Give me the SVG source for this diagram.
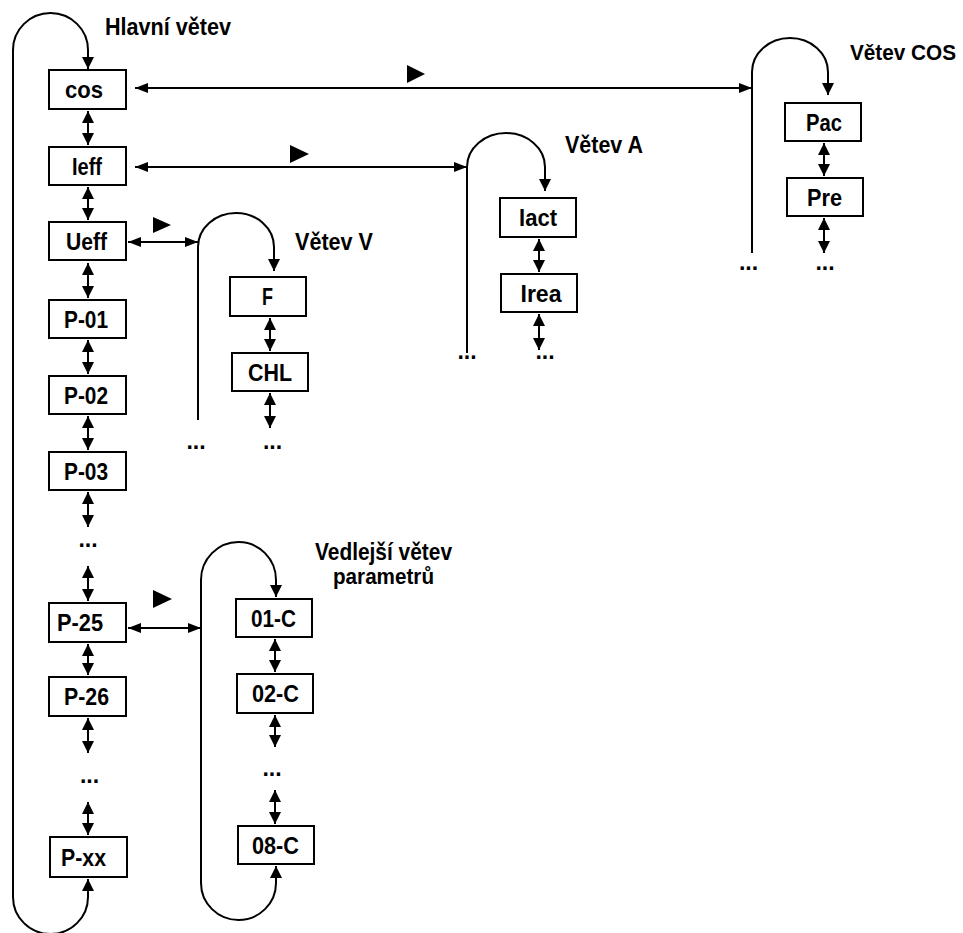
<svg xmlns="http://www.w3.org/2000/svg" width="963" height="933" viewBox="0 0 963 933">
<style>
  .bx rect { fill: #fff; stroke: #000; stroke-width: 2; }
  .bx text, .lbl { font-family: "Liberation Sans", Arial, sans-serif; font-weight: bold; font-size: 24px; fill: #000; }
  .bx text { text-anchor: middle; }
  .dots { font-family: "Liberation Sans", Arial, sans-serif; font-weight: bold; font-size: 23px; text-anchor: middle; fill: #000; }
  .c { fill: none; stroke: #000; stroke-width: 2; }
  .v { marker-start: url(#ah); marker-end: url(#ah); }
  .h { marker-start: url(#ahh); marker-end: url(#ahh); }
  .tri { fill: #000; }
</style>
<defs>
  <marker id="ah" viewBox="0 0 12 12" refX="12" refY="6" markerWidth="12" markerHeight="12" markerUnits="userSpaceOnUse" orient="auto-start-reverse">
    <path d="M0,0 L12,6 L0,12 z" fill="#000"/>
  </marker>
  <marker id="ahh" viewBox="0 0 13 10" refX="13" refY="5" markerWidth="13" markerHeight="10" markerUnits="userSpaceOnUse" orient="auto-start-reverse">
    <path d="M0,0 L13,5 L0,10 z" fill="#000"/>
  </marker>
</defs>
<rect width="963" height="933" fill="#fff"/>

<g id="connectors">
  <path class="c v" d="M88,879 L88,897 A37.5,37 0 0 1 13,897 L13,50 A37.5,37 0 0 1 88,50 L88,69"/>
  <path class="c" style="marker-end:url(#ah)" d="M198,420 L198,247 A38,34 0 0 1 274,247 L274,271"/>
  <path class="c" style="marker-end:url(#ah)" d="M467,353 L467,167 A39,34 0 0 1 545,167 L545,191"/>
  <path class="c" style="marker-end:url(#ah)" d="M752,253 L752,72 A38,34 0 0 1 828,72 L828,95"/>
  <path class="c v" d="M276,866 L276,883 A37.5,37 0 0 1 201,883 L201,580 A37.5,38 0 0 1 276,580 L276,597"/>
  <line class="c h" x1="135" y1="88" x2="752" y2="88"/>
  <line class="c h" x1="135" y1="167" x2="467" y2="167"/>
  <line class="c h" x1="128" y1="242" x2="198" y2="242"/>
  <line class="c h" x1="128" y1="628" x2="201" y2="628"/>
  <polygon class="tri" points="407,65 425,74 407,83"/>
  <polygon class="tri" points="290,145 309,154 290,163"/>
  <polygon class="tri" points="153,217 171,225 153,233"/>
  <polygon class="tri" points="153,590 172,599 153,608"/>
  <line class="c v" x1="88" y1="111" x2="88" y2="145"/>
  <line class="c v" x1="88" y1="187" x2="88" y2="220"/>
  <line class="c v" x1="88" y1="263" x2="88" y2="298"/>
  <line class="c v" x1="88" y1="340" x2="88" y2="374"/>
  <line class="c v" x1="88" y1="416" x2="88" y2="450"/>
  <line class="c v" x1="88" y1="492" x2="88" y2="527"/>
  <line class="c v" x1="88" y1="566" x2="88" y2="601"/>
  <line class="c v" x1="88" y1="644" x2="88" y2="675"/>
  <line class="c v" x1="88" y1="718" x2="88" y2="753"/>
  <line class="c v" x1="88" y1="802" x2="88" y2="835"/>
  <line class="c v" x1="270" y1="318" x2="270" y2="351"/>
  <line class="c v" x1="270" y1="393" x2="270" y2="428"/>
  <line class="c v" x1="539" y1="239" x2="539" y2="272"/>
  <line class="c v" x1="539" y1="314" x2="539" y2="350"/>
  <line class="c v" x1="824" y1="143" x2="824" y2="176"/>
  <line class="c v" x1="824" y1="218" x2="824" y2="253"/>
  <line class="c v" x1="275" y1="639" x2="275" y2="672"/>
  <line class="c v" x1="275" y1="715" x2="275" y2="747"/>
  <line class="c v" x1="275" y1="790" x2="275" y2="824"/>
</g>

<g id="n-cos" class="bx"><rect x="49" y="70" width="77" height="39"/><text x="84" y="98" textLength="38" lengthAdjust="spacingAndGlyphs">cos</text></g>
<g id="n-ieff" class="bx"><rect x="49" y="147" width="77" height="38"/><text x="87" y="175" textLength="30" lengthAdjust="spacingAndGlyphs">Ieff</text></g>
<g id="n-ueff" class="bx"><rect x="49" y="222" width="77" height="38"/><text x="86.5" y="249.5" textLength="41" lengthAdjust="spacingAndGlyphs">Ueff</text></g>
<g id="n-p01" class="bx"><rect x="49" y="300" width="77" height="38"/><text x="86" y="327.5" textLength="44" lengthAdjust="spacingAndGlyphs">P-01</text></g>
<g id="n-p02" class="bx"><rect x="49" y="376" width="77" height="38"/><text x="86" y="403.5" textLength="44" lengthAdjust="spacingAndGlyphs">P-02</text></g>
<g id="n-p03" class="bx"><rect x="49" y="452" width="77" height="38"/><text x="86" y="479.5" textLength="44" lengthAdjust="spacingAndGlyphs">P-03</text></g>
<g id="n-p25" class="bx"><rect x="49" y="603" width="77" height="39"/><text x="80" y="631" textLength="46" lengthAdjust="spacingAndGlyphs">P-25</text></g>
<g id="n-p26" class="bx"><rect x="49" y="677" width="77" height="39"/><text x="86.5" y="705" textLength="45" lengthAdjust="spacingAndGlyphs">P-26</text></g>
<g id="n-pxx" class="bx"><rect x="50" y="837" width="77" height="40"/><text x="83.5" y="865.5" textLength="45" lengthAdjust="spacingAndGlyphs">P-xx</text></g>

<g id="n-f" class="bx"><rect x="230" y="277" width="76" height="39"/><text x="267.5" y="305" textLength="11" lengthAdjust="spacingAndGlyphs">F</text></g>
<g id="n-chl" class="bx"><rect x="232" y="353" width="76" height="38"/><text x="270" y="380.5" textLength="44" lengthAdjust="spacingAndGlyphs">CHL</text></g>

<g id="n-iact" class="bx"><rect x="500" y="198" width="76" height="39"/><text x="538" y="226" textLength="38" lengthAdjust="spacingAndGlyphs">Iact</text></g>
<g id="n-irea" class="bx"><rect x="501" y="274" width="76" height="38"/><text x="541" y="301.5" textLength="41" lengthAdjust="spacingAndGlyphs">Irea</text></g>

<g id="n-pac" class="bx"><rect x="785" y="103" width="76" height="38"/><text x="824" y="130.5" textLength="36" lengthAdjust="spacingAndGlyphs">Pac</text></g>
<g id="n-pre" class="bx"><rect x="787" y="178" width="76" height="38"/><text x="824.5" y="205.5" textLength="35" lengthAdjust="spacingAndGlyphs">Pre</text></g>

<g id="n-01c" class="bx"><rect x="236" y="599" width="76" height="38"/><text x="273.5" y="626.5" textLength="45" lengthAdjust="spacingAndGlyphs">01-C</text></g>
<g id="n-02c" class="bx"><rect x="237" y="674" width="76" height="39"/><text x="275.5" y="702" textLength="47" lengthAdjust="spacingAndGlyphs">02-C</text></g>
<g id="n-08c" class="bx"><rect x="238" y="826" width="76" height="38"/><text x="275.5" y="853.5" textLength="47" lengthAdjust="spacingAndGlyphs">08-C</text></g>

<g id="labels">
  <text class="lbl" x="105" y="35" textLength="126" lengthAdjust="spacingAndGlyphs">Hlavní větev</text>
  <text class="lbl" x="295" y="250" textLength="78" lengthAdjust="spacingAndGlyphs">Větev V</text>
  <text class="lbl" x="565" y="153" textLength="78" lengthAdjust="spacingAndGlyphs">Větev A</text>
  <text class="lbl" x="850" y="60" style="font-size:22px" textLength="106" lengthAdjust="spacingAndGlyphs">Větev COS</text>
  <text class="lbl" x="315" y="560" textLength="137" lengthAdjust="spacingAndGlyphs">Vedlejší větev</text>
  <text class="lbl" x="333" y="584" style="font-size:22px" textLength="101" lengthAdjust="spacingAndGlyphs">parametrů</text>
  <text class="dots" x="88" y="547">...</text>
  <text class="dots" x="89.5" y="783">...</text>
  <text class="dots" x="196" y="449">...</text>
  <text class="dots" x="272.5" y="449">...</text>
  <text class="dots" x="467" y="359">...</text>
  <text class="dots" x="545" y="359">...</text>
  <text class="dots" x="748.5" y="270">...</text>
  <text class="dots" x="825" y="270">...</text>
  <text class="dots" x="272" y="776">...</text>
</g>
</svg>
